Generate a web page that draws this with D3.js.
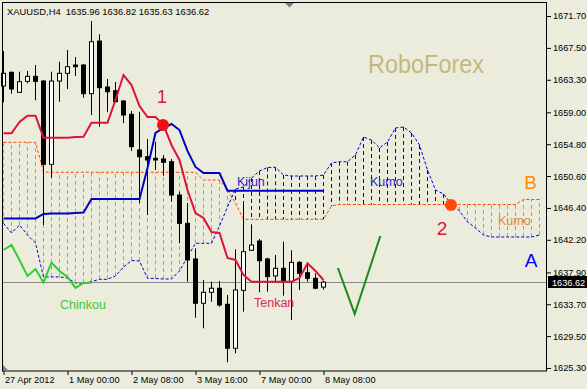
<!DOCTYPE html>
<html>
<head>
<meta charset="utf-8">
<script src="https://cdnjs.cloudflare.com/ajax/libs/d3/7.8.5/d3.min.js"></script>
<style>
html, body { margin: 0; padding: 0; background: #ECECDC; }
svg { display: block; font-family: "Liberation Sans", Arial, sans-serif; }
</style>
</head>
<body>
<div id="chart"></div>
<script>
// XAUUSD H4 candles (27 Apr 2012 16:00 .. 8 May 2012 08:00)
var open  = [1662.47,1664.28,1661.64,1663.09,1663.75,1663.13,1652.15,1663.13,1664.15,1665.24,
             1665.24,1661.46,1668.40,1662.34,1661.85,1660.50,1658.74,1654.04,1653.15,1652.94,
             1652.85,1652.49,1648.10,1644.37,1639.67,1633.83,1635.28,1635.81,1633.70,1627.90,
             1635.54,1640.82,1642.04,1639.67,1637.43,1638.44,1636.68,1639.23,1637.86,1637.12,1635.96];
var high  = [1667.09,1664.38,1664.36,1664.45,1665.24,1663.26,1664.36,1665.68,1667.22,1666.30,
             1665.37,1671.04,1669.29,1663.40,1663.00,1660.63,1659.18,1659.08,1655.49,1655.13,
             1653.38,1652.85,1648.54,1647.05,1641.08,1636.90,1636.68,1636.77,1634.92,1640.95,
             1646.79,1644.24,1642.31,1639.84,1640.20,1641.95,1640.82,1639.40,1638.88,1637.78,1636.82];
var low   = [1660.32,1661.46,1661.55,1662.83,1660.59,1644.15,1650.39,1660.40,1662.08,1663.79,
             1660.93,1658.65,1657.11,1659.01,1660.30,1657.56,1653.90,1647.05,1645.47,1651.40,
             1650.65,1647.22,1641.74,1636.68,1631.93,1630.53,1634.04,1633.38,1626.05,1627.24,
             1632.72,1640.75,1635.28,1635.36,1636.68,1634.83,1631.63,1635.58,1636.68,1635.67,1635.63];
var close = [1664.15,1662.08,1663.04,1663.75,1663.09,1652.15,1663.13,1664.15,1665.02,1665.02,
             1661.46,1668.31,1662.25,1661.72,1660.40,1658.65,1654.47,1653.15,1652.72,1652.72,
             1652.42,1648.10,1644.37,1639.54,1633.83,1635.28,1635.81,1633.60,1627.90,1635.58,
             1640.63,1641.51,1639.44,1637.34,1638.44,1636.68,1639.23,1637.78,1637.12,1635.81,1636.62];

// Ichimoku lines
var tenkan = [1656.24,1656.24,1657.73,1658.56,1658.56,1655.66,1655.66,1655.66,1655.66,1655.75,
              1655.79,1657.64,1657.64,1657.64,1660.63,1663.92,1662.60,1659.84,1658.39,1658.39,
              1657.33,1654.70,1652.72,1648.76,1645.73,1645.07,1643.23,1643.10,1639.80,1639.54,
              1637.56,1636.68,1636.68,1636.68,1636.68,1636.68,1636.68,1637.16,1639.10,1638.09,1636.90];
var kijun  = [1645.01,1645.01,1645.01,1645.01,1645.01,1645.60,1645.66,1645.66,1645.66,1645.73,
              1645.80,1647.58,1647.58,1647.58,1647.58,1647.58,1647.58,1647.58,1651.66,1656.28,
              1656.94,1657.46,1656.67,1653.91,1651.80,1651.00,1651.00,1651.00,1648.67,1648.67,
              1648.67,1648.67,1648.67,1648.67,1648.67,1648.67,1648.67,1648.67,1648.67,1648.67,1648.67];
var senkouA = [1644.37,1643.10,1644.15,1642.83,1641.78,1637.30,1637.30,1637.30,1637.16,1636.50,
               1636.50,1636.68,1636.99,1636.99,1637.43,1638.61,1639.47,1639.40,1637.12,1637.10,
               1637.03,1637.03,1638.09,1639.93,1641.74,1641.74,1641.74,1644.02,1646.52,1648.90,
               1649.16,1650.35,1651.27,1651.73,1651.76,1650.74,1650.61,1650.61,1650.61,1650.61,
               1650.74,1652.32,1652.49,1652.49,1653.38,1655.75,1655.35,1654.30,1655.09,1656.94,
               1657.07,1656.28,1654.70,1651.40,1648.76,1648.24,1646.92,1646.00,1644.55,1643.75,
               1642.83,1642.57,1642.57,1642.57,1642.57,1642.57,1642.57,1642.83];
var senkouB = [1655.05,1655.05,1655.05,1655.05,1655.05,1651.14,1651.10,1651.10,1651.10,1651.10,
               1651.10,1651.10,1651.10,1651.10,1651.10,1651.10,1651.10,1651.10,1651.10,1651.10,
               1651.10,1651.10,1651.10,1651.10,1651.10,1650.08,1650.08,1650.08,1648.76,1647.05,
               1644.90,1644.90,1644.90,1644.90,1644.90,1644.90,1644.90,1644.90,1644.90,1644.90,
               1644.90,1646.66,1646.85,1646.85,1646.85,1646.85,1646.85,1646.85,1646.85,1646.85,
               1646.85,1646.85,1646.85,1646.85,1646.85,1646.85,1646.85,1646.85,1646.85,1646.85,
               1646.85,1646.85,1646.85,1646.85,1646.85,1647.51,1647.51,1647.51];
var chinkou = [1640.85,1641.51,1639.54,1637.43,1638.35,1636.57,1639.21,1638.09,1637.30,1635.85,
               1636.50,1636.54];

// axis labels
var priceTicks = [1671.70,1667.50,1663.30,1659.00,1654.80,1650.60,1646.40,1642.20,1637.90,1633.70,1629.50,1625.30];
var timeTickIdx = [0, 8, 16, 24, 32, 40];
var timeTickLabels = ["27 Apr 2012", "1 May 00:00", "2 May 08:00", "3 May 16:00", "7 May 00:00", "8 May 08:00"];

// annotation points (bar index, price)
var vIdx = [41.8, 43.9, 47.1];
var vPrice = [1638.48, 1632.42, 1642.70];
var crossIdx = [19.94, 55.94];
var crossPrice = [1657.33, 1646.79];

var W = 587, H = 389;
var svg = d3.select("#chart").append("svg")
    .attr("width", W).attr("height", H)
    .attr("viewBox", "0 0 " + W + " " + H);

svg.append("rect").attr("width", W).attr("height", H).attr("fill", "#ECECDC");

var x = d3.scaleLinear().domain([0, 67]).range([3.5, 539.5]);
var y = d3.scaleLinear().domain([1624.90, 1673.55]).range([371, 2]);

var plot = svg.append("g");

// watermark
svg.append("text")
    .attr("x", 368).attr("y", 73)
    .attr("textLength", 116).attr("lengthAdjust", "spacingAndGlyphs")
    .style("font-size", "25px").attr("fill", "#C4B97C")
    .text("RoboForex");

// cloud hatching
var cloud = d3.range(senkouA.length).map(function(i){ return {i: i, a: senkouA[i], b: senkouB[i]}; });
plot.selectAll(".hatch").data(cloud).join("line")
    .attr("class", "hatch")
    .attr("x1", function(d){ return x(d.i); })
    .attr("x2", function(d){ return x(d.i); })
    .attr("y1", function(d){ return y(d.a); })
    .attr("y2", function(d){ return y(d.b); })
    .attr("stroke", function(d){ return d.a > d.b ? "#0000CD" : "#F4845F"; })
    .attr("stroke-width", 1)
    .attr("stroke-dasharray", "4,3");

var line = d3.line()
    .x(function(d, i){ return x(i); })
    .y(function(d){ return y(d); });

plot.append("path").attr("d", line(senkouB))
    .attr("fill", "none").attr("stroke", "#FF4500").attr("stroke-width", 1).attr("stroke-dasharray", "3,2");
plot.append("path").attr("d", line(senkouA))
    .attr("fill", "none").attr("stroke", "#0000CD").attr("stroke-width", 1).attr("stroke-dasharray", "3,2");

// current price line
plot.append("line")
    .attr("x1", 2.5).attr("x2", 546.5)
    .attr("y1", Math.round(y(close[close.length - 1])) + 0.5)
    .attr("y2", Math.round(y(close[close.length - 1])) + 0.5)
    .attr("stroke", "#8A8A8A");

// candles
var candles = d3.range(open.length).map(function(i){
    return {i: i, o: open[i], h: high[i], l: low[i], c: close[i]};
});
plot.selectAll(".wick").data(candles).join("line")
    .attr("class", "wick")
    .attr("x1", function(d){ return x(d.i); })
    .attr("x2", function(d){ return x(d.i); })
    .attr("y1", function(d){ return y(d.h); })
    .attr("y2", function(d){ return y(d.l); })
    .attr("stroke", "#000");
plot.selectAll(".body").data(candles).join("rect")
    .attr("class", "body")
    .attr("x", function(d){ return x(d.i) - 2; })
    .attr("width", 4)
    .attr("y", function(d){ return Math.min(y(d.o), y(d.c)); })
    .attr("height", function(d){ return Math.max(1, Math.abs(y(d.o) - y(d.c))); })
    .attr("fill", function(d){ return d.c >= d.o ? "#fff" : "#000"; })
    .attr("stroke", "#000");

// kijun, tenkan, chinkou
plot.append("path").attr("d", line(kijun))
    .attr("fill", "none").attr("stroke", "#0000CD").attr("stroke-width", 2);
plot.append("path").attr("d", line(tenkan))
    .attr("fill", "none").attr("stroke", "#DC143C").attr("stroke-width", 2);
plot.append("path").attr("d", line(chinkou))
    .attr("fill", "none").attr("stroke", "#32CD32").attr("stroke-width", 2);

// green V
var vLine = d3.line().x(function(d){ return x(d[0]); }).y(function(d){ return y(d[1]); });
plot.append("path").attr("d", vLine(d3.zip(vIdx, vPrice)))
    .attr("fill", "none").attr("stroke", "#1A8A1A").attr("stroke-width", 2);

// cross dots
plot.selectAll(".dot").data(d3.zip(crossIdx, crossPrice)).join("circle")
    .attr("class", "dot")
    .attr("cx", function(d){ return x(d[0]); })
    .attr("cy", function(d){ return y(d[1]); })
    .attr("r", 6)
    .attr("fill", function(d, i){ return i === 0 ? "#F01010" : "#FF4A10"; });

// labels
function label(t, px, py, size, color, anchor){
    svg.append("text").attr("x", px).attr("y", py)
        .style("font-size", size + "px").attr("fill", color)
        .attr("text-anchor", anchor || "start").text(t);
}
label("1", 162, 103, 18, "#DC143C", "middle");
label("2", 442, 235, 19, "#DC143C", "middle");
label("B", 530.5, 189, 19, "#FF8C00", "middle");
label("A", 531, 267, 19, "#0000FF", "middle");
label("Kijun", 237, 186, 12.5, "#3322CC");
label("Kumo", 370, 186, 12.5, "#3322CC");
label("Kumo", 498, 225, 12.5, "#D88A3C");
label("Tenkan", 254, 307, 12.5, "#E0284F");
label("Chinkou", 60, 309, 12.5, "#3CC83C");

// frame
svg.append("rect")
    .attr("x", 2.5).attr("y", 2.5).attr("width", 544).attr("height", 368.5)
    .attr("fill", "none").attr("stroke", "#000");

// small markers
svg.append("path").attr("d", "M285,3 L294,3 L289.5,7.5 Z").attr("fill", "#708090");
svg.append("path").attr("d", "M3,365 L3,371 L9,371 Z").attr("fill", "#7A8090");

// price axis
var yAxis = svg.append("g")
    .attr("transform", "translate(547,0)")
    .call(d3.axisRight(y).tickValues(priceTicks).tickFormat(d3.format(".2f")).tickSize(4).tickPadding(2));
yAxis.select(".domain").remove();
yAxis.selectAll("text").style("font-size", "9.2px").attr("fill", "#000").style("font-family", "Liberation Sans, Arial, sans-serif");

// current price tag
var lastY = Math.round(y(close[close.length - 1]));
svg.append("rect").attr("x", 548).attr("y", lastY - 6).attr("width", 39).attr("height", 12).attr("fill", "#000");
svg.append("text").attr("x", 552).attr("y", lastY + 4)
    .style("font-size", "9.2px").attr("fill", "#fff")
    .text(d3.format(".2f")(close[close.length - 1]));

// time axis
var xAxis = svg.append("g")
    .attr("transform", "translate(0,371)")
    .call(d3.axisBottom(x).tickValues(timeTickIdx)
        .tickFormat(function(d, k){ return timeTickLabels[k]; }).tickSize(4));
xAxis.select(".domain").remove();
xAxis.selectAll("text")
    .attr("text-anchor", "start").attr("dx", 1).attr("y", 12).attr("dy", 0)
    .style("font-size", "9.2px").attr("fill", "#000")
    .style("font-family", "Liberation Sans, Arial, sans-serif");

// title
var n = close.length - 1;
svg.append("text").attr("x", 7).attr("y", 15)
    .style("font-size", "9.4px").style("white-space", "pre").attr("fill", "#000")
    .text("XAUUSD,H4  " + [open[n], high[n], low[n], close[n]].map(d3.format(".2f")).join(" "));
</script>
</body>
</html>
